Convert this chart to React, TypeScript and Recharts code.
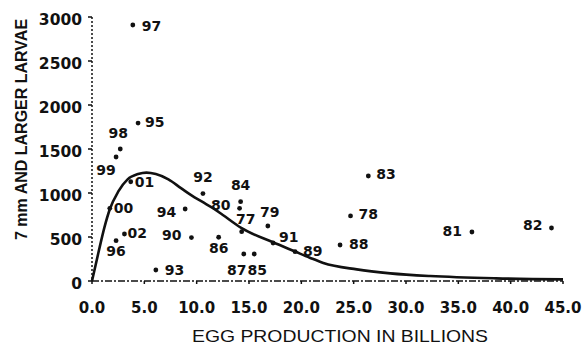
import { ScatterChart, Scatter, XAxis, YAxis } from "recharts";

// survey years, egg production (billions) and 7 mm+ larvae counts
const years = ["97", "95", "98", "99", "01", "00", "02", "96", "93", "94", "90", "92", "80", "84", "77", "79", "91", "86", "87", "85", "89", "88", "78", "83", "81", "82"];
const eggs = [3.9, 4.4, 2.7, 2.3, 3.7, 1.7, 3.1, 2.3, 6.1, 8.9, 9.5, 10.6, 14.1, 14.2, 14.3, 16.8, 17.3, 12.1, 14.5, 15.5, 19.4, 23.7, 24.7, 26.4, 36.3, 43.9];
const larvae = [2909, 1795, 1500, 1409, 1128, 826, 534, 458, 125, 818, 494, 994, 826, 901, 560, 625, 432, 497, 307, 307, 333, 409, 739, 1193, 557, 602];

// fitted stock-recruitment curve
const curveEggs = [0, 0.6, 1.2, 1.7, 2.5, 3.4, 4.4, 5.2, 6.1, 7.3, 8.5, 9.8, 10.6, 11.6, 12.5, 14.3, 17.3, 19.4, 20.8, 22.1, 25.3, 28.5, 32.3, 38.6, 45];
const curveLarvae = [0, 315, 615, 815, 1015, 1155, 1215, 1232, 1215, 1155, 1055, 950, 895, 825, 750, 600, 440, 335, 265, 205, 132, 87, 56, 30, 19];

const xTicks = [0, 5, 10, 15, 20, 25, 30, 35, 40, 45];
const yTicks = [0, 500, 1000, 1500, 2000, 2500, 3000];

const points = years.map((year, i) => ({ year, x: eggs[i], y: larvae[i] }));
const curve = curveEggs.map((x, i) => ({ x, y: curveLarvae[i] }));

const INK = "#111";
const NUM_FONT = "'DejaVu Sans', sans-serif";
const TITLE_FONT = "'Liberation Sans', Arial, sans-serif";

// where each year label sits relative to its dot
const labelPos: Record<string, [number, number, "start" | "middle" | "end"]> = {
  "97": [9, 1, "start"],
  "95": [7, -1, "start"],
  "98": [-2, -16, "middle"],
  "99": [-10, 13, "middle"],
  "01": [4, 0, "start"],
  "00": [4, 0, "start"],
  "02": [3, -1, "start"],
  "96": [0, 10, "middle"],
  "93": [9, 0, "start"],
  "94": [-9, 3, "end"],
  "90": [-10, -2, "end"],
  "92": [0, -16, "middle"],
  "80": [-9, -3, "end"],
  "84": [0, -17, "middle"],
  "77": [4, -13, "middle"],
  "79": [2, -14, "middle"],
  "91": [6, -6, "start"],
  "86": [0, 11, "middle"],
  "87": [-7, 16, "middle"],
  "85": [3, 16, "middle"],
  "89": [8, -1, "start"],
  "88": [9, -1, "start"],
  "78": [8, -2, "start"],
  "83": [8, -2, "start"],
  "81": [-10, -1, "end"],
  "82": [-9, -3, "end"],
};

const YearDot = (props: any) => {
  const { cx, cy, payload } = props;
  const [dx, dy, anchor] = labelPos[payload.year] ?? [8, 0, "start"];
  return (
    <g>
      <circle cx={cx} cy={cy} r={2.4} fill={INK} />
      <text
        x={cx + dx}
        y={cy + dy + 4.9}
        textAnchor={anchor}
        fontFamily={NUM_FONT}
        fontWeight="bold"
        fontSize={14}
        fill={INK}
      >
        {payload.year}
      </text>
    </g>
  );
};

const NoDot = () => <g />;

const XTick = (props: any) => {
  const { x, y, payload } = props;
  return (
    <text x={x} y={y + 11} textAnchor="middle" fontFamily={NUM_FONT} fontWeight="bold" fontSize={15} fill={INK}>
      {Number(payload.value).toFixed(1)}
    </text>
  );
};

const YTick = (props: any) => {
  const { x, y, payload } = props;
  return (
    <text x={x} y={y + 7.5} textAnchor="end" fontFamily={NUM_FONT} fontWeight="bold" fontSize={15.5} fill={INK}>
      {payload.value}
    </text>
  );
};

export default function App() {
  return (
    <div style={{ position: "absolute", left: 0, top: 0, width: 584, height: 346, background: "#fff" }}>
      <ScatterChart width={584} height={346} margin={{ top: 17, right: 21, bottom: 25, left: 32 }}>
        <XAxis
          type="number"
          dataKey="x"
          domain={[0, 45]}
          ticks={xTicks}
          height={40}
          axisLine={{ stroke: INK, strokeWidth: 1.5, strokeDasharray: "7 2 2 2" }}
          tickLine={{ stroke: INK, strokeWidth: 1.5, strokeDasharray: "0 4 3" }}
          tickSize={7}
          tickMargin={14}
          tick={<XTick />}
        />
        <YAxis
          type="number"
          dataKey="y"
          domain={[0, 3000]}
          ticks={yTicks}
          width={60}
          axisLine={{ stroke: INK, strokeWidth: 1.5, strokeDasharray: "2 2" }}
          tickLine={{ stroke: INK, strokeWidth: 1.5, strokeDasharray: "0 2 4" }}
          tickSize={6}
          tickMargin={4}
          tick={<YTick />}
        />
        <Scatter
          data={curve}
          line={{ stroke: INK, strokeWidth: 2.6 }}
          lineType="joint"
          lineJointType="monotoneX"
          shape={<NoDot />}
          isAnimationActive={false}
        />
        <Scatter data={points} shape={<YearDot />} isAnimationActive={false} />
      </ScatterChart>
      <svg width={584} height={346} style={{ position: "absolute", left: 0, top: 0, pointerEvents: "none" }}>
        <text
          transform="translate(27,240) rotate(-90)"
          x={0}
          y={0}
          textAnchor="start"
          fontFamily={TITLE_FONT}
          fontWeight="bold"
          fontSize={16}
          fill={INK}
        >
          7 mm AND LARGER LARVAE
        </text>
        <text
          x={192}
          y={342}
          textAnchor="start"
          fontFamily={TITLE_FONT}
          fontSize={16.5}
          textLength={296}
          lengthAdjust="spacingAndGlyphs"
          fill={INK}
        >
          EGG PRODUCTION IN BILLIONS
        </text>
      </svg>
    </div>
  );
}
